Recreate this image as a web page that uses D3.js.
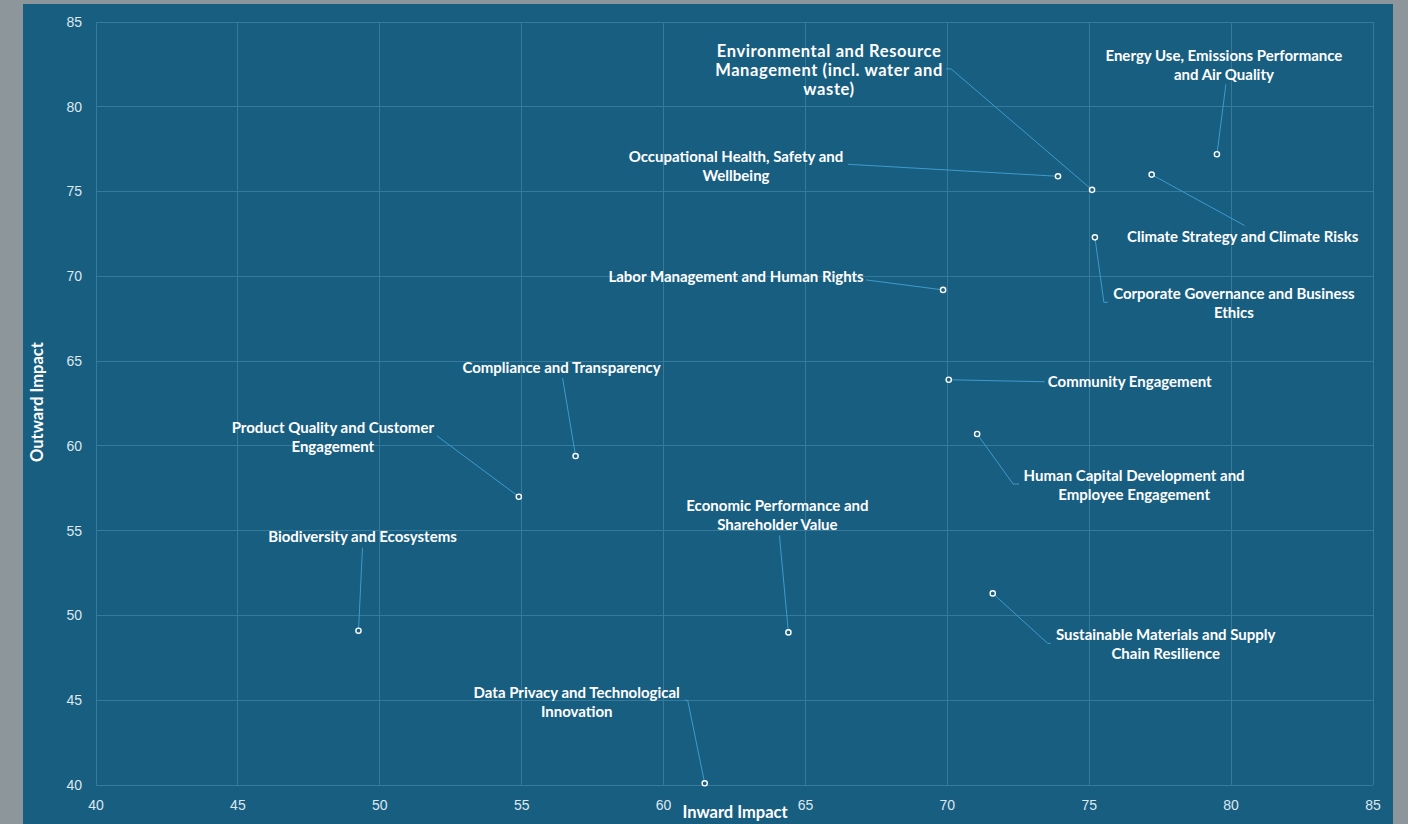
<!DOCTYPE html>
<html lang="en">
<head>
<meta charset="UTF-8">
<title>Materiality</title>
<style>
    body { margin: 0; background: #8d979b; }
    svg { display: block; }
</style>
</head>
<body>
<script src="https://cdnjs.cloudflare.com/ajax/libs/d3/7.8.2/d3.min.js"></script>
<script>

// topics (multi-line labels split with |)
const topics = [
    "Energy Use, Emissions Performance|and Air Quality",
    "Environmental and Resource|Management (incl. water and|waste)",
    "Occupational Health, Safety and|Wellbeing",
    "Climate Strategy and Climate Risks",
    "Corporate Governance and Business|Ethics",
    "Labor Management and Human Rights",
    "Community Engagement",
    "Human Capital Development and|Employee Engagement",
    "Compliance and Transparency",
    "Product Quality and Customer|Engagement",
    "Biodiversity and Ecosystems",
    "Economic Performance and|Shareholder Value",
    "Sustainable Materials and Supply|Chain Resilience",
    "Data Privacy and Technological|Innovation"
]
const inward  = [79.5, 75.1, 73.9, 77.2, 75.2, 69.85, 70.05, 71.05, 56.9, 54.9, 49.25, 64.4, 71.6, 61.45]
const outward = [77.2, 75.1, 75.9, 76.0, 72.3, 69.2, 63.9, 60.7, 59.4, 57.0, 49.1, 49.0, 51.3, 40.1]

const xTicks = [40, 45, 50, 55, 60, 65, 70, 75, 80, 85]
const yTicks = [40, 45, 50, 55, 60, 65, 70, 75, 80, 85]

// label placement, pixel offsets from the point (layout only)
const labelOffset = [
    [7, -99], [-263, -139], [-322, -20], [91, 62], [139, 56], [-207, -13], [181, 2],
    [157, 42], [-14, -88], [-186, -69], [4, -94], [-11, -127], [173, 41], [-128, -91]
]
const leaderPath = [
    [[9, -70]], [[-141, -121], [-146, -121]], [[-210, -12]], [[93, 51]], [[9, 65], [13, 65]],
    [[-77, -10]], [[96, 2]], [[36, 50], [42, 50]], [[-13, -78]], [[-82, -61]],
    [[4, -83]], [[-9, -97]], [[55, 50], [58, 50]], [[-17, -83], [-20, -83]]
]

const W = 1408, H = 824
const bg = "#185e81"

const svg = d3.select("body").append("svg")
    .attr("width", W)
    .attr("height", H)

svg.append("rect")
    .attr("x", 23).attr("y", 4)
    .attr("width", 1370).attr("height", H)
    .attr("fill", bg)

const x = d3.scaleLinear().domain([40, 85]).range([96, 1373])
const y = d3.scaleLinear().domain([40, 85]).range([785, 22])

// grid
svg.append("g").selectAll("line")
    .data(xTicks).enter().append("line")
        .attr("x1", d => x(d)).attr("x2", d => x(d))
        .attr("y1", y(85)).attr("y2", y(40))
        .attr("stroke", "#367a9b").attr("stroke-width", 1)
        .attr("shape-rendering", "crispEdges")

svg.append("g").selectAll("line")
    .data(yTicks).enter().append("line")
        .attr("x1", x(40)).attr("x2", x(85))
        .attr("y1", d => y(d)).attr("y2", d => y(d))
        .attr("stroke", "#367a9b").attr("stroke-width", 1)
        .attr("shape-rendering", "crispEdges")

// tick labels
svg.append("g").selectAll("text")
    .data(yTicks).enter().append("text")
        .attr("x", 82).attr("y", d => y(d))
        .attr("dy", "0.35em")
        .attr("text-anchor", "end")
        .attr("fill", "#dde8ef")
        .style("font", "14px 'Liberation Sans', Arial, sans-serif")
        .text(d => d)

svg.append("g").selectAll("text")
    .data(xTicks).enter().append("text")
        .attr("x", d => x(d)).attr("y", 805)
        .attr("dy", "0.35em")
        .attr("text-anchor", "middle")
        .attr("fill", "#dde8ef")
        .style("font", "14px 'Liberation Sans', Arial, sans-serif")
        .text(d => d)

// axis titles
svg.append("text")
    .attr("x", 735).attr("y", 812)
    .attr("dy", "0.35em")
    .attr("text-anchor", "middle")
    .attr("fill", "#ffffff")
    .style("font", "bold 16.5px Lato, 'Open Sans', sans-serif")
    .text("Inward Impact")

svg.append("text")
    .attr("transform", "translate(37,402) rotate(-90)")
    .attr("dy", "0.35em")
    .attr("text-anchor", "middle")
    .attr("fill", "#ffffff")
    .style("font", "bold 16.5px Lato, 'Open Sans', sans-serif")
    .text("Outward Impact")

const pts = topics.map((t, i) => ({
    lines: t.split("|"),
    px: x(inward[i]),
    py: y(outward[i]),
    lab: labelOffset[i],
    lead: leaderPath[i],
    big: i === 1
}))

// leader lines
svg.append("g").selectAll("path")
    .data(pts).enter().append("path")
        .attr("d", d => d3.line()([[d.px, d.py]].concat(d.lead.map(p => [d.px + p[0], d.py + p[1]]))))
        .attr("fill", "none")
        .attr("stroke", "#3d9bcc")
        .attr("stroke-width", 1)

// points
svg.append("g").selectAll("circle")
    .data(pts).enter().append("circle")
        .attr("cx", d => d.px)
        .attr("cy", d => d.py)
        .attr("r", 2.6)
        .attr("fill", bg)
        .attr("stroke", "#ffffff")
        .attr("stroke-width", 1.4)

// labels
const lab = svg.append("g").selectAll("text")
    .data(pts).enter().append("text")
        .attr("text-anchor", "middle")
        .attr("fill", "#ffffff")
        .style("font-family", "Lato, 'Open Sans', sans-serif")
        .style("font-weight", "bold")
        .style("font-size", d => d.big ? "16.5px" : "15px")
        .style("letter-spacing", d => d.big ? "0.6px" : "0px")

lab.selectAll("tspan")
    .data(d => d.lines.map((l, k) => ({ l, k, d })))
    .enter().append("tspan")
        .attr("x", o => o.d.px + o.d.lab[0])
        .attr("y", o => o.d.py + o.d.lab[1] + o.k * 19)
        .attr("dy", "0.35em")
        .text(o => o.l)

</script>
</body>
</html>
